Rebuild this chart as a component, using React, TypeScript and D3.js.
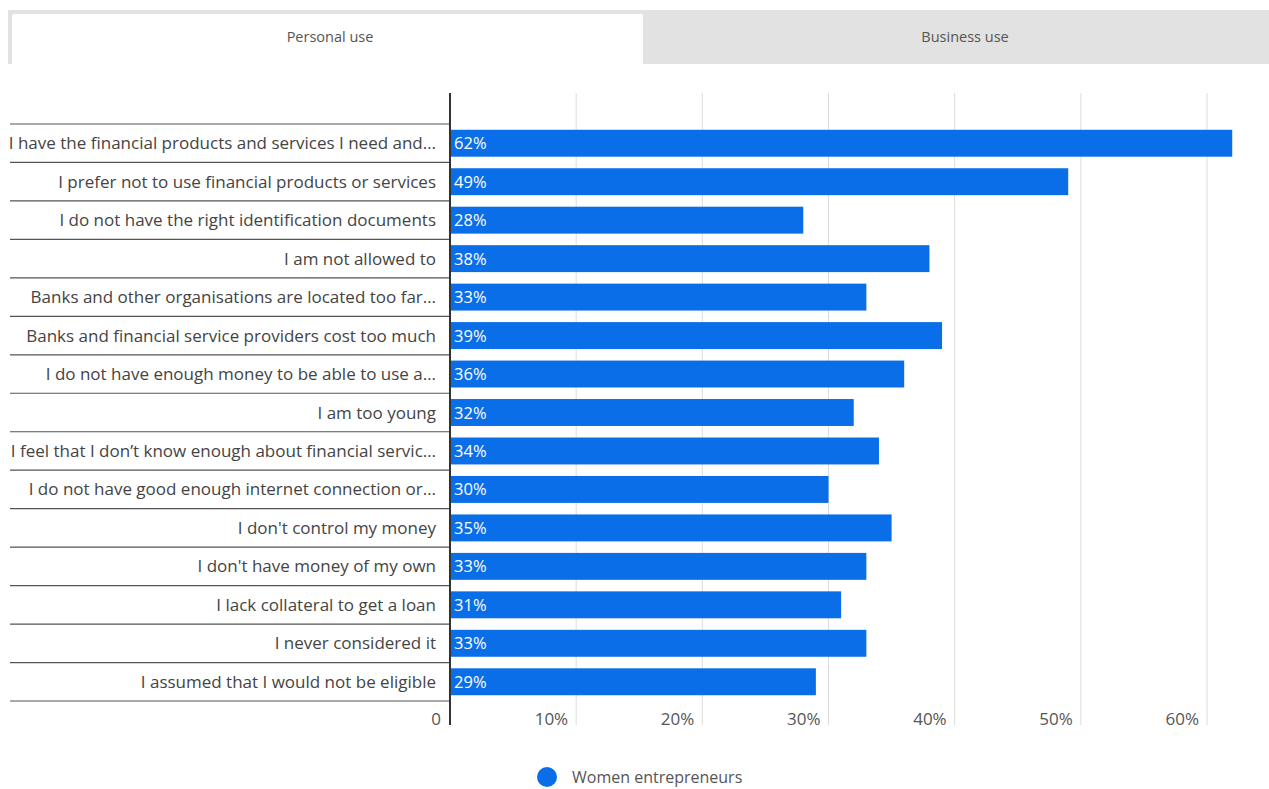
import React from "react";
import * as d3 from "d3";

const categories: string[] = [
  "I have the financial products and services I need and…",
  "I prefer not to use financial products or services",
  "I do not have the right identification documents",
  "I am not allowed to",
  "Banks and other organisations are located too far…",
  "Banks and financial service providers cost too much",
  "I do not have enough money to be able to use a…",
  "I am too young",
  "I feel that I don’t know enough about financial servic…",
  "I do not have good enough internet connection or…",
  "I don't control my money",
  "I don't have money of my own",
  "I lack collateral to get a loan",
  "I never considered it",
  "I assumed that I would not be eligible",
];

const values: number[] = [62, 49, 28, 38, 33, 39, 36, 32, 34, 30, 35, 33, 31, 33, 29];

const xTicks: number[] = [0, 10, 20, 30, 40, 50, 60];

const tabs: string[] = ["Personal use", "Business use"];
const seriesName = "Women entrepreneurs";

const W = 1269;
const H = 789;
const FONT = "'Open Sans', 'DejaVu Sans', sans-serif";
const BLUE = "#0a6ee8";

export default function App() {
  const x = d3.scaleLinear().domain([0, 60]).range([450, 1207]);
  const y = d3
    .scaleBand<string>()
    .domain(categories)
    .range([124, 701])
    .paddingInner(0.3)
    .paddingOuter(0.15);
  const step = y.step();
  const rowTop = (c: string) => 124 + categories.indexOf(c) * step;

  return (
    <svg
      width={W}
      height={H}
      style={{ position: "absolute", left: 0, top: 0, display: "block" }}
      fontFamily={FONT}
    >
      <rect x={0} y={0} width={W} height={H} fill="#ffffff" />
      {/* tabs */}
      <rect x={8} y={10} width={W - 8} height={54} fill="#e2e2e2" />
      <rect x={12} y={14} width={631} height={52} fill="#ffffff" rx={2} />
      <text x={330} y={42} textAnchor="middle" fontSize={14.5} fill="#555">
        {tabs[0]}
      </text>
      <text x={965} y={42} textAnchor="middle" fontSize={14.5} fill="#555">
        {tabs[1]}
      </text>

      {/* gridlines */}
      {xTicks.slice(1).map((t) => (
        <line key={t} x1={x(t)} x2={x(t)} y1={93} y2={725} stroke="#dcdcdc" strokeWidth={1} />
      ))}

      {/* row separators */}
      {categories.map((c, i) => (
        <line key={"s" + i} x1={10} x2={450} y1={rowTop(c)} y2={rowTop(c)} stroke="#555" strokeWidth={1.2} />
      ))}
      <line x1={10} x2={450} y1={701} y2={701} stroke="#555" strokeWidth={1.2} />

      {/* bars */}
      {categories.map((c, i) => (
        <g key={c}>
          <rect x={x(0) + 1} y={y(c)} width={x(values[i]) - x(0) - 1} height={y.bandwidth()} fill={BLUE} />
          <text
            x={x(0) + 4}
            y={(y(c) as number) + y.bandwidth() / 2 + 6}
            fontSize={16.5}
            fill="#ffffff"
          >
            {values[i]}%
          </text>
          <text
            x={436}
            y={rowTop(c) + step / 2 + 6}
            textAnchor="end"
            fontSize={17}
            fill="#444"
          >
            {c}
          </text>
        </g>
      ))}

      {/* axis line */}
      <line x1={450} x2={450} y1={93} y2={725} stroke="#333" strokeWidth={2} />

      {/* tick labels */}
      {xTicks.map((t) => (
        <text
          key={"t" + t}
          x={t === 0 ? 441 : x(t) - 8}
          y={725}
          textAnchor="end"
          fontSize={17}
          fill="#555"
        >
          {t === 0 ? "0" : `${t}%`}
        </text>
      ))}

      {/* legend */}
      <circle cx={547} cy={777} r={10} fill={BLUE} />
      <text x={572} y={783} fontSize={16} fill="#555">
        {seriesName}
      </text>
    </svg>
  );
}
